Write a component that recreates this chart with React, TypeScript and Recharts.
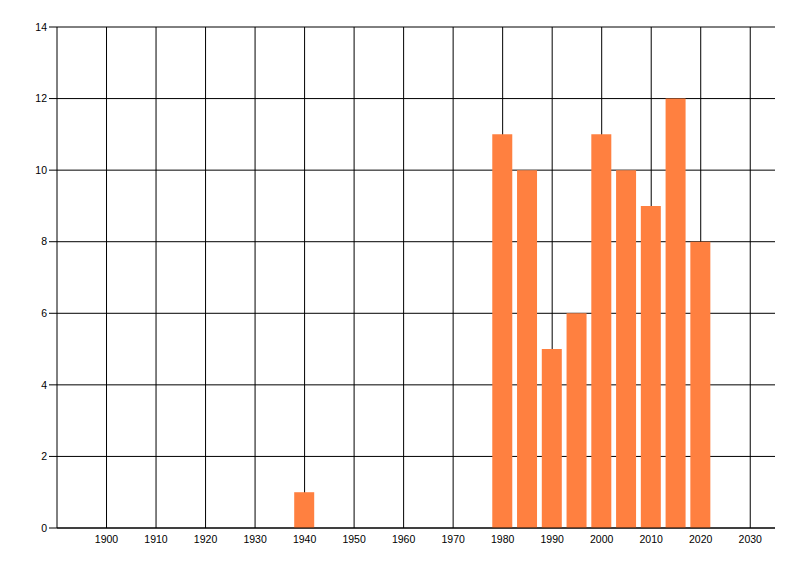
import React from 'react';
import { BarChart, Bar, XAxis, YAxis, CartesianGrid } from 'recharts';

const years = [1940, 1980, 1985, 1990, 1995, 2000, 2005, 2010, 2015, 2020];
const counts = [1, 11, 10, 5, 6, 11, 10, 9, 12, 8];
const xTicks = [1900, 1910, 1920, 1930, 1940, 1950, 1960, 1970, 1980, 1990, 2000, 2010, 2020, 2030];
const yTicks = [0, 2, 4, 6, 8, 10, 12, 14];

const data = years.map((y, i) => ({ year: y, count: counts[i] }));

const tickStyle = { fontFamily: '"Liberation Sans", Arial, sans-serif', fontSize: 10.5, fill: '#000' };

const verticalGen = (props: any) => {
  const scale = props?.xAxis?.scale;
  if (!scale) return [];
  const fn = typeof scale === 'function' ? scale : scale.map ? (v: number) => scale.map(v) : null;
  if (!fn) return [];
  return xTicks.map((t) => fn(t));
};

export default function App() {
  return (
    <div style={{ width: 792, height: 560 }}>
      <BarChart
        width={792}
        height={560}
        data={data}
        margin={{ top: 19, right: 25, bottom: 10, left: 0 }}
      >
        <CartesianGrid
          stroke="#000"
          strokeWidth={1}
          horizontal
          vertical
          verticalCoordinatesGenerator={verticalGen}
        />
        <XAxis
          dataKey="year"
          type="number"
          domain={[1890, 2035]}
          ticks={xTicks}
          interval={0}
          height={30}
          tickLine={false}
          tickSize={6}
          tickMargin={2}
          axisLine={{ stroke: '#000' }}
          tick={tickStyle}
          allowDataOverflow
        />
        <YAxis
          type="number"
          domain={[0, 14]}
          ticks={yTicks}
          interval={0}
          width={49}
          tickSize={8}
          tickMargin={2}
          tickLine={{ stroke: '#000' }}
          axisLine={{ stroke: '#000' }}
          tick={tickStyle}
        />
        <Bar dataKey="count" fill="#FF8040" barSize={20} isAnimationActive={false} />
      </BarChart>
    </div>
  );
}
